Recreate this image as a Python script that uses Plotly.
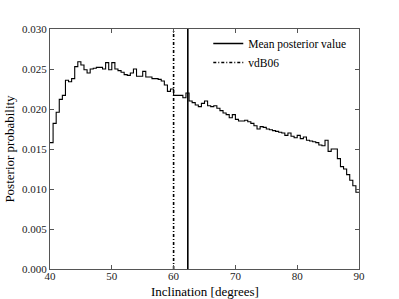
import plotly.graph_objects as go

bin_edges_start = 40.0
bin_width = 0.5
posterior = [
    0.0158, 0.0182, 0.0196, 0.0212, 0.0217, 0.0236, 0.0234, 0.0238, 0.0253, 0.0259,
    0.0255, 0.0249, 0.0245, 0.0250, 0.0251, 0.0252, 0.0252, 0.0250, 0.0258, 0.0249,
    0.0258, 0.0250, 0.0248, 0.0246, 0.0243, 0.0242, 0.0245, 0.0250, 0.0241, 0.0241,
    0.0247, 0.0240, 0.0240, 0.0238, 0.0238, 0.0237, 0.0235, 0.0230, 0.0222, 0.0225,
    0.0217, 0.0217, 0.0217, 0.0214, 0.0220, 0.0210, 0.0208, 0.0205, 0.0203, 0.0207,
    0.0210, 0.0204, 0.0203, 0.0204, 0.0201, 0.0198, 0.0195, 0.0193, 0.0189, 0.0193,
    0.0187, 0.0185, 0.0185, 0.0186, 0.0184, 0.0182, 0.0179, 0.0175, 0.0178, 0.0177,
    0.0175, 0.0174, 0.0173, 0.0172, 0.0171, 0.0170, 0.0167, 0.0170, 0.0166, 0.0164,
    0.0167, 0.0163, 0.0165, 0.0161, 0.0160, 0.0159, 0.0158, 0.0155, 0.0154, 0.0161,
    0.0147, 0.0150, 0.0150, 0.0138, 0.0128, 0.0125, 0.0118, 0.0111, 0.0104, 0.0096,
]
mean_posterior = 62.3
vdb06 = 60.0
x_ticks = [40, 50, 60, 70, 80, 90]
y_ticks = [0.000, 0.005, 0.010, 0.015, 0.020, 0.025, 0.030]

edges = [bin_edges_start + i * bin_width for i in range(len(posterior) + 1)]
step_y = posterior + [posterior[-1]]

font = "Liberation Serif, DejaVu Serif, serif"

fig = go.Figure()
fig.add_trace(go.Scatter(x=edges, y=step_y, mode="lines", line=dict(color="black", width=1.1, shape="hv"),
                         showlegend=False, hoverinfo="skip"))
fig.add_trace(go.Scatter(x=[mean_posterior, mean_posterior], y=[y_ticks[0], y_ticks[-1]], mode="lines",
                         line=dict(color="black", width=1.6), name="Mean posterior value"))
fig.add_trace(go.Scatter(x=[vdb06, vdb06], y=[y_ticks[0], y_ticks[-1]], mode="lines",
                         line=dict(color="black", width=1.6, dash="3px,2px,1px,2px"), name="vdB06"))

axis_common = dict(showline=True, linecolor="#555", linewidth=1, mirror="ticks", ticks="inside",
                   ticklen=4, tickcolor="#555", showgrid=False, zeroline=False, automargin=False,
                   tickfont=dict(family=font, size=11, color="#222"))
fig.update_xaxes(range=[40, 90], tickvals=x_ticks, ticktext=[str(t) for t in x_ticks],
                 ticklabelstandoff=-3, **axis_common)
fig.update_yaxes(range=[0, 0.03], tickvals=y_ticks, ticktext=["%.3f" % t for t in y_ticks],
                 title=dict(text="Posterior probability", font=dict(family=font, size=13, color="black"), standoff=4),
                 **axis_common)
fig.add_annotation(text="Inclination [degrees]", xref="paper", yref="paper", x=0.5, y=0, yshift=-13,
                   xanchor="center", yanchor="top", showarrow=False,
                   font=dict(family=font, size=13, color="black"))
fig.update_layout(width=399, height=299, margin=dict(l=50, r=40, t=29, b=30),
                  paper_bgcolor="white", plot_bgcolor="white",
                  legend=dict(x=0.975, y=1.0, xanchor="right", yanchor="top", bgcolor="rgba(0,0,0,0)",
                              font=dict(family=font, size=11.5, color="black"), tracegroupgap=0,
                              itemwidth=30))
fig.write_html("out.html", config={"displayModeBar": False},
               post_script="document.body.style.margin='0';document.body.style.overflow='hidden';")
